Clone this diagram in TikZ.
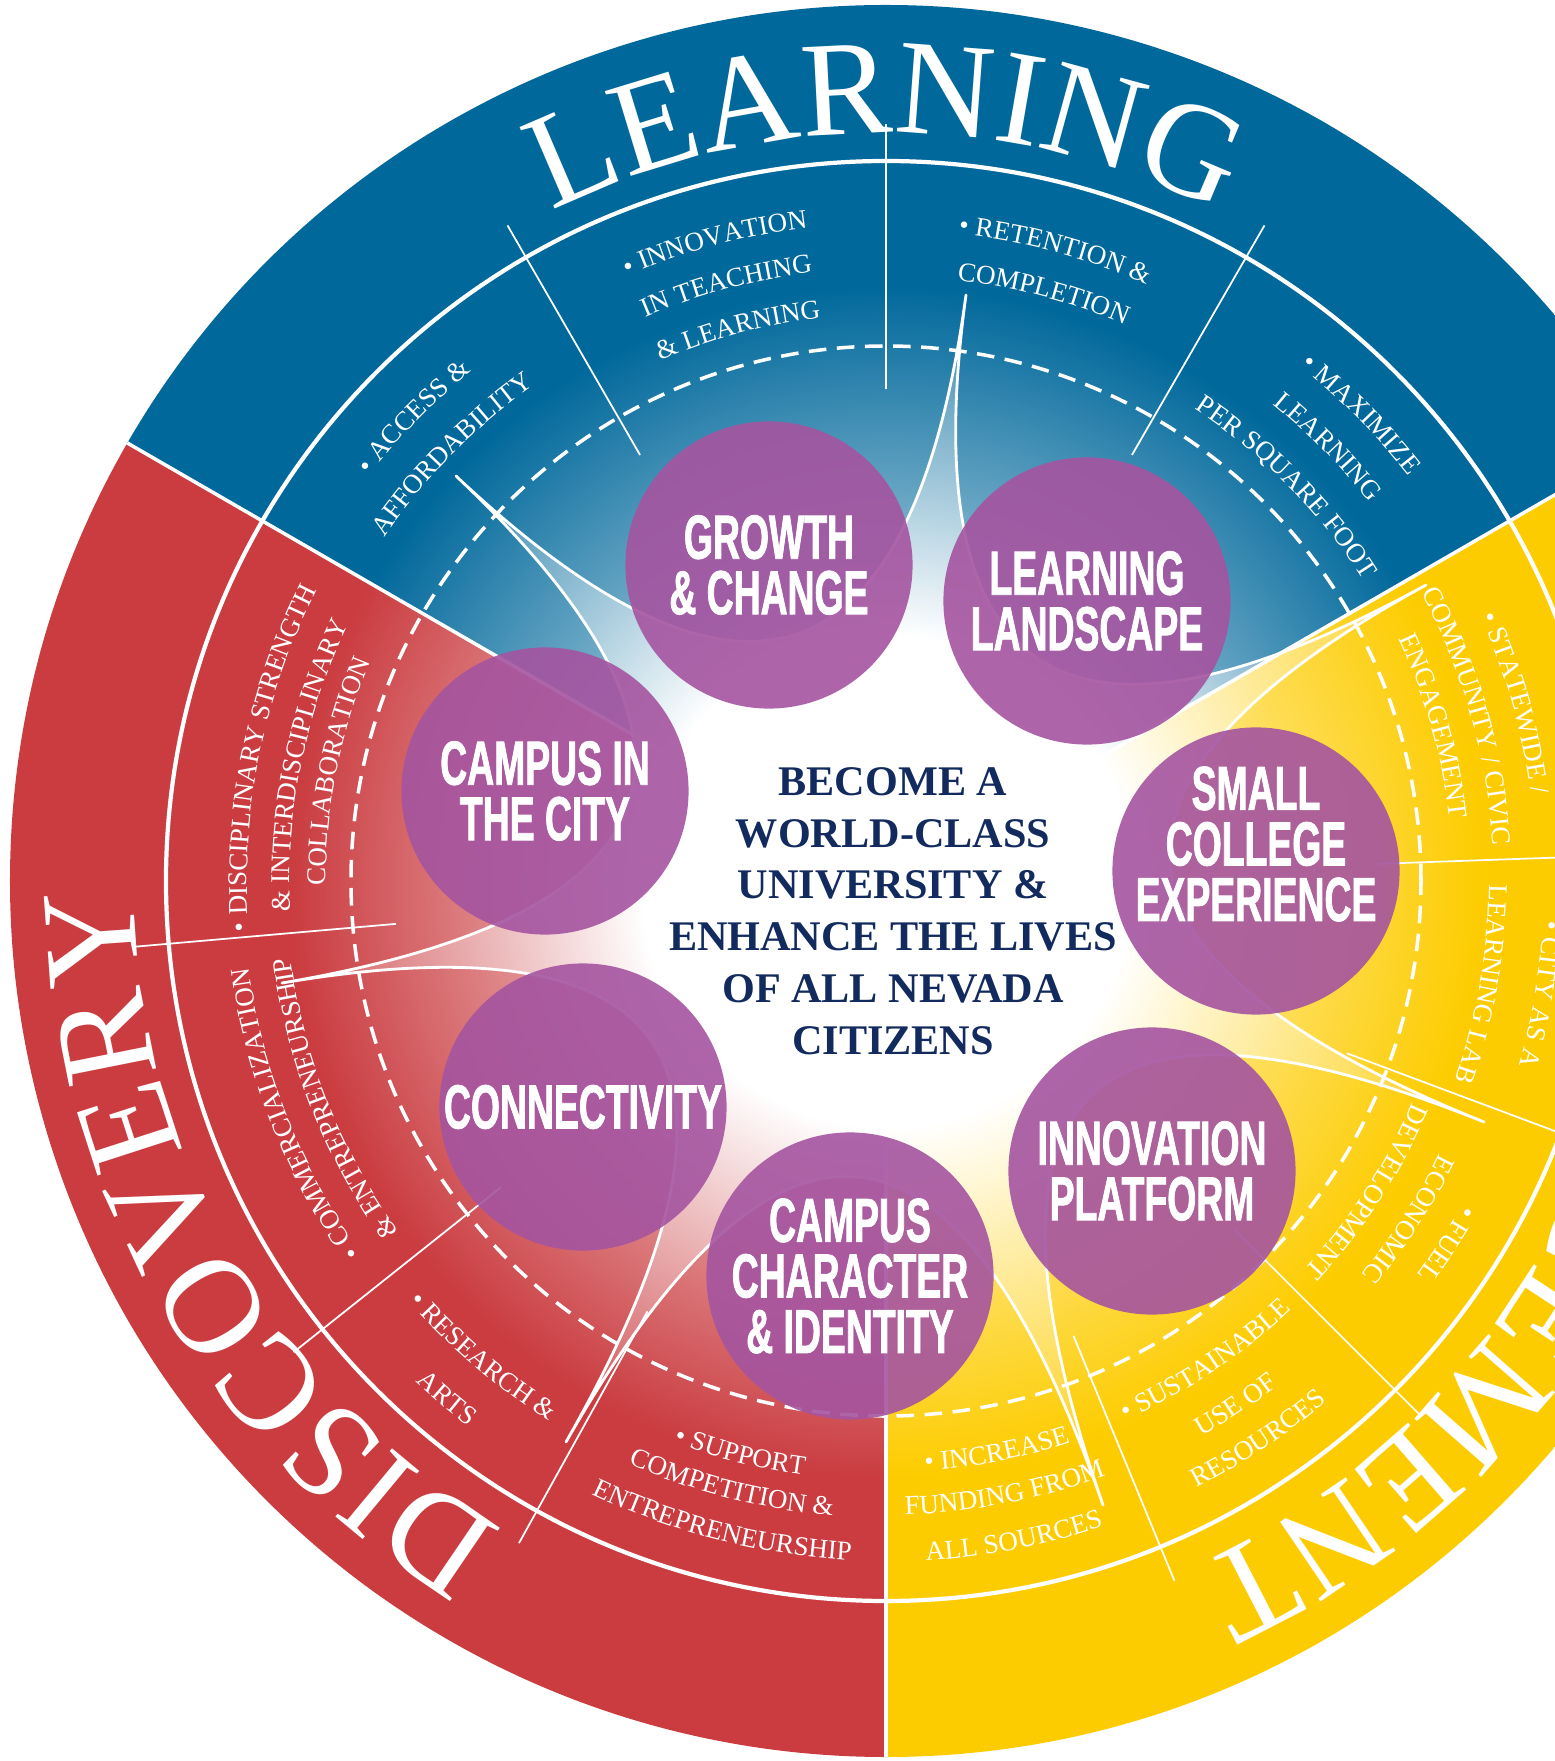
\documentclass[tikz,border=0pt]{standalone}
\usepackage{fontspec}
\setmainfont{Liberation Serif}
\newfontfamily\topicfont{Liberation Sans}[FakeStretch=0.6,FakeBold=1.2]
\usetikzlibrary{calc,decorations.text}

\definecolor{learnblue}{RGB}{0,104,155}
\definecolor{discred}{RGB}{202,60,64}
\definecolor{engyellow}{RGB}{253,204,0}
\definecolor{topicpurple}{RGB}{165,84,160}
\definecolor{missionnavy}{RGB}{18,42,94}

% sector fills, white in the middle
\pgfdeclareradialshading{learnfade}{\pgfpointorigin}{color(0bp)=(white); color(2bp)=(white); color(17bp)=(learnblue); color(50bp)=(learnblue)}
\pgfdeclareradialshading{discfade}{\pgfpointorigin}{color(0bp)=(white); color(2bp)=(white); color(17bp)=(discred); color(50bp)=(discred)}
\pgfdeclareradialshading{engfade}{\pgfpointorigin}{color(0bp)=(white); color(2bp)=(white); color(17bp)=(engyellow); color(50bp)=(engyellow)}
% lighter spikes of the star
\pgfdeclareradialshading{learnglow}{\pgfpointorigin}{color(0bp)=(white); color(7bp)=(white); color(19bp)=(learnblue); color(50bp)=(learnblue)}
\pgfdeclareradialshading{discglow}{\pgfpointorigin}{color(0bp)=(white); color(7bp)=(white); color(19bp)=(discred); color(50bp)=(discred)}
\pgfdeclareradialshading{engglow}{\pgfpointorigin}{color(0bp)=(white); color(7bp)=(white); color(19bp)=(engyellow); color(50bp)=(engyellow)}

\newcommand{\sublabel}{\color{white}\fontsize{7.7}{9}\selectfont}
\newcommand{\bandlabel}{\color{white}\fontsize{38.5}{40}\selectfont}
% text on an arc, read clockwise (tops out) or anticlockwise (tops in)
\newcommand{\outarc}[3]{\path[decorate,decoration={text along path,text align=center,text={|\sublabel|#3}}]
  ({#1+40}:#2) arc[start angle={#1+40},end angle={#1-40},radius=#2];}
\newcommand{\inarc}[3]{\path[decorate,decoration={text along path,text align=center,text={|\sublabel|#3}}]
  ({#1-40}:#2) arc[start angle={#1-40},end angle={#1+40},radius=#2];}

\begin{document}
\begin{tikzpicture}
  [x=0.01cm,y=0.01cm,
   topic/.style={circle,fill=topicpurple,fill opacity=.9,text opacity=1,text=white,
     minimum size=2.87cm,inner sep=0pt,align=center,
     font=\topicfont\bfseries\fontsize{17.7}{15.8}\selectfont},
   topiclabel/.style={text=white,align=center,inner sep=0pt,
     font=\topicfont\bfseries\fontsize{17.7}{15.8}\selectfont},
   mission/.style={text=missionnavy,align=center,font=\bfseries\fontsize{12}{14.7}\selectfont},
   ring/.style={white,line width=1.2pt},
   dashring/.style={white,line width=1pt,dash pattern=on 5pt off 3pt},
   sectorline/.style={white,line width=1pt},
   subline/.style={white,line width=.5pt},
   starline/.style={white,line width=.8pt,line cap=round,line join=round}]
  \useasboundingbox (-886,-880) rectangle (669,881);
  \clip (-886,-880) rectangle (669,881);
  \fill[white] (-886,-880) rectangle (669,881);

  \coordinate (O) at (0,0);
  \coordinate (tip1) at (-430,405);
  \coordinate (tip2) at (80,586);
  \coordinate (tip3) at (540,296);
  \coordinate (tip4) at (598,-241);
  \coordinate (tip5) at (217,-624);
  \coordinate (tip6) at (-320,-561);
  \coordinate (tip7) at (-604,-102);

  % the three sectors
  \begin{scope}
    \clip (O) -- (30:876) arc[start angle=30,end angle=150,radius=876] -- cycle;
    \shade[shading=learnfade] (O) circle[radius=876];
  \end{scope}
  \begin{scope}
    \clip (O) -- (150:876) arc[start angle=150,end angle=270,radius=876] -- cycle;
    \shade[shading=discfade] (O) circle[radius=876];
  \end{scope}
  \begin{scope}
    \clip (O) -- (270:876) arc[start angle=270,end angle=390,radius=876] -- cycle;
    \shade[shading=engfade] (O) circle[radius=876];
  \end{scope}

  % star in the middle
  \begin{scope}
    \clip (tip1) \foreach \i/\j in {1/2,2/3,3/4,4/5,5/6,6/7,7/1}
      { .. controls ($(tip\i)!2/3!(O)$) and ($(tip\j)!2/3!(O)$) .. (tip\j) } -- cycle;
    \begin{scope}
      \clip (O) -- (30:876) arc[start angle=30,end angle=150,radius=876] -- cycle;
      \shade[shading=learnglow] (O) circle[radius=876];
    \end{scope}
    \begin{scope}
      \clip (O) -- (150:876) arc[start angle=150,end angle=270,radius=876] -- cycle;
      \shade[shading=discglow] (O) circle[radius=876];
    \end{scope}
    \begin{scope}
      \clip (O) -- (270:876) arc[start angle=270,end angle=390,radius=876] -- cycle;
      \shade[shading=engglow] (O) circle[radius=876];
    \end{scope}
  \end{scope}

  \draw[ring] (O) circle[radius=720];
  \draw[dashring] (O) circle[radius=535];
  \foreach \a in {30,150,270}
    \draw[sectorline] (O) -- (\a:876);
  \foreach \a in {60,90,120,185,218.5,241,2,-20.5,-45,-67.6}
    \draw[subline] (\a:492) -- (\a:757);

  \draw[starline] (tip1) \foreach \i/\j in {1/2,2/3,3/4,4/5,5/6,6/7,7/1}
      { .. controls ($(tip\i)!2/3!(O)$) and ($(tip\j)!2/3!(O)$) .. (tip\j) } -- cycle;

  % band titles
  \path[decorate,decoration={text along path,text align=center,text={|\bandlabel|LEARNING}}]
    (150:748) arc[start angle=150,end angle=30,radius=748];
  \path[decorate,decoration={text along path,text align=center,text={|\bandlabel|DISCOVERY}}]
    (270:752) arc[start angle=270,end angle=150,radius=752];
  \path[decorate,decoration={text along path,text align=center,text={|\bandlabel|ENGAGEMENT}}]
    (30:752) arc[start angle=30,end angle=-90,radius=752];

  % learning
  \outarc{135.5}{657}{• ACCESS {\&}}
  \outarc{135.5}{608}{AFFORDABILITY}
  \outarc{105}{658}{• INNOVATION}
  \outarc{105}{613}{IN TEACHING}
  \outarc{105}{567}{{\&} LEARNING}
  \outarc{75}{651}{• RETENTION {\&}}
  \outarc{75}{605}{COMPLETION}
  \outarc{44.5}{661}{• MAXIMIZE}
  \outarc{44.5}{614}{LEARNING}
  \outarc{44.5}{564}{PER SQUARE FOOT}
  % discovery
  \outarc{168.7}{639}{• DISCIPLINARY STRENGTH}
  \outarc{168.7}{596}{{\&} INTERDISCIPLINARY}
  \outarc{168.7}{560}{COLLABORATION}
  \outarc{201.5}{643}{• COMMERCIALIZATION}
  \outarc{201.5}{600}{{\&} ENTREPRENEURSHIP}
  \inarc{229.7}{636}{• RESEARCH {\&}}
  \inarc{229.7}{687}{ARTS}
  \inarc{255.7}{600}{• SUPPORT}
  \inarc{255.7}{637}{COMPETITION {\&}}
  \inarc{255.7}{680}{ENTREPRENEURSHIP}
  % engagement
  \inarc{-79}{591}{• INCREASE}
  \inarc{-79}{634}{FUNDING FROM}
  \inarc{-79}{681}{ALL SOURCES}
  \inarc{-56.3}{590}{• SUSTAINABLE}
  \inarc{-56.3}{639}{USE OF}
  \inarc{-56.3}{682}{RESOURCES}
  \outarc{-32.9}{661}{• FUEL}
  \outarc{-32.9}{617}{ECONOMIC}
  \outarc{-32.9}{571}{DEVELOPMENT}
  \outarc{-9.8}{659}{• CITY AS A}
  \outarc{-9.8}{603}{LEARNING LAB}
  \outarc{15.8}{651}{• STATEWIDE /}
  \outarc{15.8}{608}{COMMUNITY / CIVIC}
  \outarc{15.8}{567}{ENGAGEMENT}

  % the seven topics
  \node[topic] (growth) at (-117,316) {GROWTH\\\& CHANGE};
  \node[topic] (landscape) at (201,280) {LEARNING\\LANDSCAPE};
  \node[topic,label={[topiclabel,yshift=0.27cm]center:SMALL\\COLLEGE\\EXPERIENCE}] (college) at (370,10) {};
  \node[topic] (platform) at (266,-290) {INNOVATION\\PLATFORM};
  \node[topic] (character) at (-36,-395) {CAMPUS\\CHARACTER\\\& IDENTITY};
  \node[topic] (connect) at (-303,-226) {CONNECTIVITY};
  \node[topic] (city) at (-341,90) {CAMPUS IN\\THE CITY};

  \node[mission] (mission) at (7,-30)
    {BECOME A\\WORLD-CLASS\\UNIVERSITY \&\\ENHANCE THE LIVES\\OF ALL NEVADA\\CITIZENS};
\end{tikzpicture}
\end{document}
